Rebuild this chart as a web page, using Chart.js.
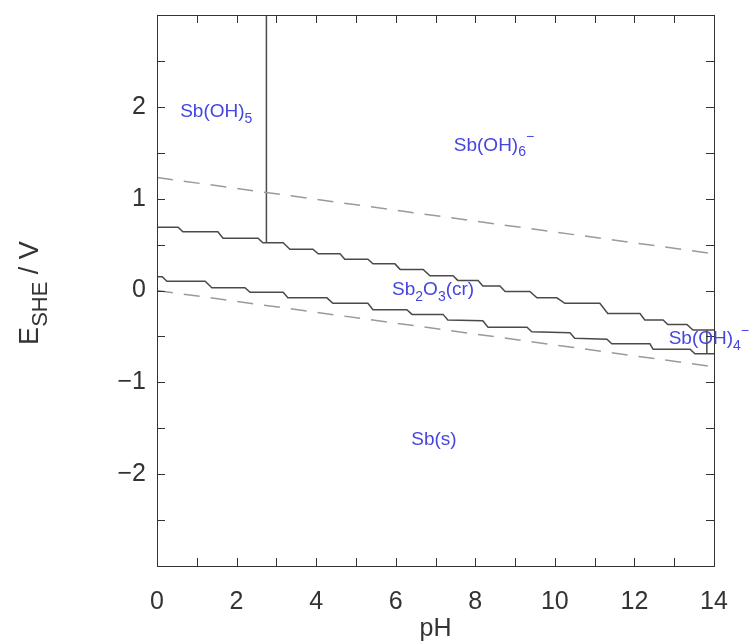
<!DOCTYPE html>
<html>
<head>
<meta charset="utf-8">
<title>Sb Pourbaix diagram</title>
<script src="https://cdn.jsdelivr.net/npm/chart.js@4.4.1/dist/chart.umd.min.js"></script>
<style>
  html, body { margin: 0; padding: 0; background: #fff; }
  canvas { display: block; }
</style>
</head>
<body>
<canvas id="pourbaix" width="753" height="644"></canvas>
<script>
// --- data (pH, E in volts vs SHE) ---
const phMin = 0, phMax = 14;
const eMin = -3, eMax = 3;

// Sb(V) / Sb2O3 boundary (staircase as drawn)
const upperPH = [0, 0.53, 0.65, 1.53, 1.66, 2.54, 2.66, 3.17, 3.34, 3.92, 4.05, 4.60, 4.72, 5.30, 5.43, 5.98,
  6.11, 6.69, 6.86, 7.44, 7.56, 8.07, 8.19, 8.62, 8.75, 9.37, 9.55, 10.05, 10.25, 11.13, 11.33, 12.14,
  12.26, 12.72, 12.84, 13.32, 13.47, 14];
const upperE = [0.69, 0.69, 0.64, 0.64, 0.57, 0.57, 0.52, 0.52, 0.45, 0.45, 0.40, 0.40, 0.34, 0.34, 0.29, 0.29,
  0.23, 0.23, 0.16, 0.16, 0.11, 0.11, 0.05, 0.05, -0.01, -0.01, -0.08, -0.08, -0.14, -0.14, -0.25, -0.25,
  -0.32, -0.32, -0.37, -0.37, -0.43, -0.43];

// Sb2O3 / Sb boundary
const lowerPH = [0, 0.13, 0.25, 1.21, 1.38, 2.21, 2.34, 3.17, 3.29, 4.27, 4.42, 5.30, 5.43, 6.28, 6.41, 7.19,
  7.31, 8.19, 8.32, 9.30, 9.42, 10.38, 10.50, 11.31, 11.43, 12.39, 12.47, 13.40, 13.52, 14];
const lowerE = [0.15, 0.15, 0.10, 0.10, 0.03, 0.03, -0.02, -0.02, -0.08, -0.08, -0.14, -0.14, -0.21, -0.21, -0.26, -0.26,
  -0.32, -0.33, -0.40, -0.40, -0.45, -0.46, -0.52, -0.53, -0.58, -0.58, -0.64, -0.64, -0.69, -0.69];

// Sb(OH)5 / Sb(OH)6- and Sb2O3 / Sb(OH)4- vertical boundaries
const sb5PH = [2.75, 2.75];
const sb5E = [0.52, 3];
const sb4PH = [13.82, 13.82];
const sb4E = [-0.43, -0.69];

// water stability lines
const o2PH = [0, 14];
const o2E = [1.23, 0.40];
const h2PH = [0, 14];
const h2E = [0.00, -0.83];

// region labels (_{} subscript, ^{} superscript)
const regionNames = ['Sb(OH)_{5}', 'Sb(OH)_{6}^{\u2212}', 'Sb_{2}O_{3}(cr)', 'Sb(OH)_{4}^{\u2212}', 'Sb(s)'];
const regionPH = [1.49, 8.47, 6.94, 13.87, 6.96];
const regionE = [1.95, 1.58, 0.01, -0.53, -1.62];

const xTitle = 'pH';
const yTitle = 'E_{SHE} / V';

function pts(xs, ys) {
    return xs.map((x, i) => ({ x: x, y: ys[i] }));
}

const FONT = '"Liberation Sans", Arial, sans-serif';
const lineColor = '#4a4a4a';
const dashColor = '#9a9a9a';

function drawRich(ctx, str, cx, cy, size, color, subRatio) {
    const parts = [];
    const re = /_\{([^}]*)\}|\^\{([^}]*)\}|([^_^]+)/g;
    let m;
    while ((m = re.exec(str)) !== null) {
        if (m[1] !== undefined) parts.push({ t: m[1], s: 1 });
        else if (m[2] !== undefined) parts.push({ t: m[2], s: -1 });
        else parts.push({ t: m[3], s: 0 });
    }
    const small = Math.round(size * (subRatio || 0.75));
    let total = 0;
    parts.forEach(p => {
        ctx.font = (p.s ? small : size) + 'px ' + FONT;
        p.w = ctx.measureText(p.t).width;
        total += p.w;
    });
    let x = cx - total / 2;
    ctx.fillStyle = color;
    ctx.textBaseline = 'middle';
    ctx.textAlign = 'left';
    parts.forEach(p => {
        ctx.font = (p.s ? small : size) + 'px ' + FONT;
        const dy = p.s === 1 ? size * 0.38 : (p.s === -1 ? -size * 0.42 : 0);
        ctx.fillText(p.t, x, cy + dy);
        x += p.w;
    });
}

// box, inward ticks, region labels and axis titles
const frame = {
    id: 'frame',
    afterDraw(chart) {
        const { ctx, chartArea: a, scales: { x, y } } = chart;
        ctx.save();
        ctx.strokeStyle = '#333';
        ctx.lineWidth = 1;
        ctx.beginPath();
        for (let v = phMin + 1; v < phMax; v++) {
            const px = Math.round(x.getPixelForValue(v)) + 0.5;
            ctx.moveTo(px, a.bottom); ctx.lineTo(px, a.bottom - 8);
            ctx.moveTo(px, a.top); ctx.lineTo(px, a.top + 8);
        }
        for (let v = eMin + 0.5; v < eMax; v += 0.5) {
            const py = Math.round(y.getPixelForValue(v)) + 0.5;
            ctx.moveTo(a.left, py); ctx.lineTo(a.left + 8, py);
            ctx.moveTo(a.right, py); ctx.lineTo(a.right - 8, py);
        }
        ctx.stroke();
        ctx.strokeRect(Math.round(a.left) + 0.5, Math.round(a.top) + 0.5,
            Math.round(a.right - a.left), Math.round(a.bottom - a.top));

        regionNames.forEach((name, i) => {
            drawRich(ctx, name, x.getPixelForValue(regionPH[i]), y.getPixelForValue(regionE[i]), 19, '#4545e0');
        });

        drawRich(ctx, xTitle, (a.left + a.right) / 2, 629, 25, '#333');
        ctx.translate(31, 293);
        ctx.rotate(-Math.PI / 2);
        drawRich(ctx, yTitle, 0, 0, 27, '#333', 0.8);
        ctx.restore();
    }
};

const ctx = document.getElementById('pourbaix').getContext('2d');

function line(data, color, dash, width) {
    return {
        data: data,
        showLine: true,
        borderColor: color,
        borderWidth: width,
        borderDash: dash,
        pointRadius: 0,
        fill: false,
        tension: 0
    };
}

new Chart(ctx, {
    type: 'scatter',
    data: {
        datasets: [
            line(pts(o2PH, o2E), dashColor, [16, 11], 1.5),
            line(pts(h2PH, h2E), dashColor, [16, 11], 1.5),
            line(pts(upperPH, upperE), lineColor, [], 1.5),
            line(pts(lowerPH, lowerE), lineColor, [], 1.5),
            line(pts(sb5PH, sb5E), lineColor, [], 1.5),
            line(pts(sb4PH, sb4E), lineColor, [], 1.5)
        ]
    },
    options: {
        responsive: false,
        animation: false,
        layout: { padding: { top: 15, right: 39, left: 0, bottom: 0 } },
        plugins: {
            legend: { display: false },
            tooltip: { enabled: false }
        },
        scales: {
            x: {
                type: 'linear',
                min: phMin,
                max: phMax,
                afterFit: s => { s.height = 78; s.paddingLeft = 0; s.paddingRight = 0; },
                grid: { display: false, drawTicks: false },
                border: { display: false },
                ticks: {
                    stepSize: 1,
                    maxRotation: 0,
                    autoSkip: false,
                    padding: 21,
                    color: '#333',
                    font: { family: FONT, size: 25 },
                    callback: v => (v % 2 === 0 ? String(v) : '')
                }
            },
            y: {
                type: 'linear',
                min: eMin,
                max: eMax,
                afterFit: s => { s.width = 157; s.paddingTop = 0; s.paddingBottom = 0; },
                grid: { display: false, drawTicks: false },
                border: { display: false },
                ticks: {
                    stepSize: 0.5,
                    autoSkip: false,
                    padding: 11,
                    color: '#333',
                    font: { family: FONT, size: 25 },
                    callback: v => (Number.isInteger(v) && v > eMin && v < eMax ? (v < 0 ? '\u2212' + (-v) : String(v)) : '')
                }
            }
        }
    },
    plugins: [frame]
});
</script>
</body>
</html>
